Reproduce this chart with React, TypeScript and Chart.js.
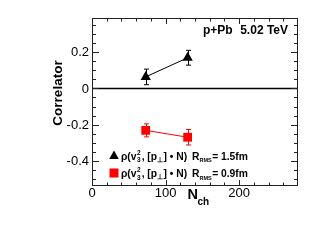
import React, { useEffect, useRef } from "react";
import { Chart, registerables } from "chart.js";

Chart.register(...registerables);

// ---- data ----
const nchValues = [73, 130];
const rmsA_values = [0.064, 0.17]; // R_RMS = 1.5 fm (black triangles)
const rmsA_errors = [0.043, 0.041];
const rmsB_values = [-0.232, -0.27]; // R_RMS = 0.9 fm (red squares)
const rmsB_errors = [0.036, 0.043];

const xMajorTicks = [0, 100, 200];
const xTickLabels = ["0", "100", "200"];
const yMajorTicks = [-0.4, -0.2, 0, 0.2];
const yTickLabels = ["-0.4", "-0.2", "0", "0.2"];
const xMinorStep = 20;
const yMinorStep = 0.05;
const xRange = [0, 280];
const yRange = [-0.54, 0.39];

const FONT = "'Liberation Sans', Arial, Helvetica, sans-serif";

const rootPlugin = {
  id: "rootStyle",
  beforeDatasetsDraw(chart: any) {
    const { ctx, chartArea: a, scales } = chart;
    const xs = scales.x;
    const ys = scales.y;
    ctx.save();
    // zero line
    const y0 = Math.round(ys.getPixelForValue(0)) + 0.5;
    ctx.strokeStyle = "#000";
    ctx.lineWidth = 1.5;
    ctx.beginPath();
    ctx.moveTo(a.left, y0);
    ctx.lineTo(a.right, y0);
    ctx.stroke();
    // error bars
    const sets = [
      { v: rmsA_values, e: rmsA_errors, c: "#000" },
      { v: rmsB_values, e: rmsB_errors, c: "#ff0000" },
    ];
    ctx.lineWidth = 1;
    for (const s of sets) {
      ctx.strokeStyle = s.c;
      s.v.forEach((val, i) => {
        const px = Math.round(xs.getPixelForValue(nchValues[i])) + 0.5;
        const pTop = ys.getPixelForValue(val + s.e[i]);
        const pBot = ys.getPixelForValue(val - s.e[i]);
        ctx.beginPath();
        ctx.moveTo(px, pTop);
        ctx.lineTo(px, pBot);
        ctx.moveTo(px - 2.5, pTop);
        ctx.lineTo(px + 2.5, pTop);
        ctx.moveTo(px - 2.5, pBot);
        ctx.lineTo(px + 2.5, pBot);
        ctx.stroke();
      });
    }
    ctx.restore();
  },
  afterDraw(chart: any) {
    const { ctx, chartArea: a, scales } = chart;
    const xs = scales.x;
    const ys = scales.y;
    ctx.save();
    ctx.strokeStyle = "#222";
    ctx.lineWidth = 1;
    const L = Math.round(a.left) + 0.5;
    const R = Math.round(a.right) - 0.5;
    const T = Math.round(a.top) + 0.5;
    const B = Math.round(a.bottom) - 0.5;
    ctx.strokeRect(L, T, R - L, B - T);

    // y ticks
    ctx.beginPath();
    for (let v = -0.5; v <= yRange[1] + 1e-9; v += yMinorStep) {
      const vv = Math.round(v * 100) / 100;
      if (vv < yRange[0]) continue;
      const major = yMajorTicks.some((m) => Math.abs(m - vv) < 1e-6);
      const len = major ? 6.5 : 3.5;
      const py = Math.round(ys.getPixelForValue(vv)) + 0.5;
      ctx.moveTo(L, py);
      ctx.lineTo(L + len, py);
      ctx.moveTo(R, py);
      ctx.lineTo(R - len, py);
    }
    // x ticks
    for (let v = xRange[0] + xMinorStep; v < xRange[1]; v += xMinorStep) {
      const major = xMajorTicks.includes(v);
      const len = major ? 5.5 : 3;
      const px = Math.round(xs.getPixelForValue(v)) + 0.5;
      ctx.moveTo(px, B);
      ctx.lineTo(px, B - len);
      ctx.moveTo(px, T);
      ctx.lineTo(px, T + len);
    }
    ctx.stroke();

    // tick labels
    ctx.fillStyle = "#000";
    ctx.font = `13px ${FONT}`;
    ctx.textAlign = "right";
    ctx.textBaseline = "middle";
    yMajorTicks.forEach((v, i) => {
      ctx.fillText(yTickLabels[i], a.left - 3, ys.getPixelForValue(v) + 0.5);
    });
    ctx.textAlign = "center";
    xMajorTicks.forEach((v, i) => {
      ctx.fillText(xTickLabels[i], xs.getPixelForValue(v), a.bottom + 7.5);
    });

    // axis titles
    ctx.font = `bold 14.5px ${FONT}`;
    ctx.textAlign = "left";
    ctx.textBaseline = "alphabetic";
    ctx.fillText("N", 187.5, 199);
    ctx.font = `bold 10px ${FONT}`;
    ctx.fillText("ch", 197.5, 205);

    ctx.save();
    ctx.translate(62, (a.top + a.bottom) / 2 - 9);
    ctx.rotate(-Math.PI / 2);
    ctx.font = `bold 13.5px ${FONT}`;
    ctx.textAlign = "center";
    ctx.textBaseline = "alphabetic";
    ctx.fillText("Correlator", 0, 0);
    ctx.restore();

    // system label
    ctx.font = `bold 12px ${FONT}`;
    ctx.textBaseline = "alphabetic";
    ctx.textAlign = "right";
    ctx.fillText("5.02 TeV", a.right - 10, 34);
    ctx.textAlign = "left";
    ctx.fillText("p+Pb", a.right - 95, 34);

    // legend
    const rows = [
      { y: 155.5, kind: "tri", color: "#000", r: "= 1.5fm" },
      { y: 173, kind: "sq", color: "#ff0000", r: "= 0.9fm" },
    ];
    for (const row of rows) {
      const mx = a.left + 22;
      ctx.fillStyle = row.color;
      ctx.beginPath();
      if (row.kind === "tri") {
        ctx.moveTo(mx, row.y - 5);
        ctx.lineTo(mx + 4.8, row.y + 3.5);
        ctx.lineTo(mx - 4.8, row.y + 3.5);
        ctx.closePath();
      } else {
        ctx.rect(mx - 4.5, row.y - 4.5, 9, 9);
      }
      ctx.fill();

      ctx.fillStyle = "#000";
      const base = row.y + 4;
      let x = a.left + 29;
      const put = (t: string, f: string, dy = 0) => {
        ctx.font = f;
        ctx.fillText(t, x, base + dy);
        x += ctx.measureText(t).width;
      };
      ctx.textAlign = "left";
      const main = `bold 10.3px ${FONT}`;
      const small = `bold 6.5px ${FONT}`;
      put("\u03c1(v", main);
      ctx.font = small;
      ctx.fillText("2", x + 0.5, base - 5);
      ctx.fillText("3", x + 0.5, base + 2.5);
      x += ctx.measureText("2").width + 1.5;
      put(", [p", main);
      put("\u22a5", `bold 7px ${FONT}`, 2);
      x += 0.5;
      put("] \u2022 N)", main);
      x = a.left + 100;
      put("R", main);
      put("RMS", `bold 5.5px ${FONT}`, 2.5);
      x += 0.5;
      put(row.r, main);
    }
    ctx.restore();
  },
};

export default function App() {
  const ref = useRef<HTMLCanvasElement | null>(null);
  useEffect(() => {
    if (!ref.current) return;
    const chart = new Chart(ref.current, {
      type: "line",
      data: {
        datasets: [
          {
            data: nchValues.map((x, i) => ({ x, y: rmsA_values[i] })),
            borderColor: "#000",
            backgroundColor: "#000",
            borderWidth: 1,
            pointStyle: "triangle",
            pointRadius: 6,
            pointBorderWidth: 0,
          },
          {
            data: nchValues.map((x, i) => ({ x, y: rmsB_values[i] })),
            borderColor: "#ff0000",
            backgroundColor: "#ff0000",
            borderWidth: 1,
            pointStyle: "rect",
            pointRadius: 6.2,
            pointBorderWidth: 0,
          },
        ],
      },
      options: {
        responsive: false,
        animation: false,
        devicePixelRatio: 1,
        layout: { padding: { left: 92, right: 33, top: 18, bottom: 63 } },
        plugins: { legend: { display: false }, tooltip: { enabled: false } },
        scales: {
          x: { type: "linear", min: xRange[0], max: xRange[1], display: false },
          y: { type: "linear", min: yRange[0], max: yRange[1], display: false },
        },
      },
      plugins: [rootPlugin],
    });
    return () => chart.destroy();
  }, []);
  return (
    <div style={{ position: "fixed", left: 0, top: 0, width: 331, height: 249, background: "#fff" }}>
      <canvas ref={ref} width={331} height={249} />
    </div>
  );
}
